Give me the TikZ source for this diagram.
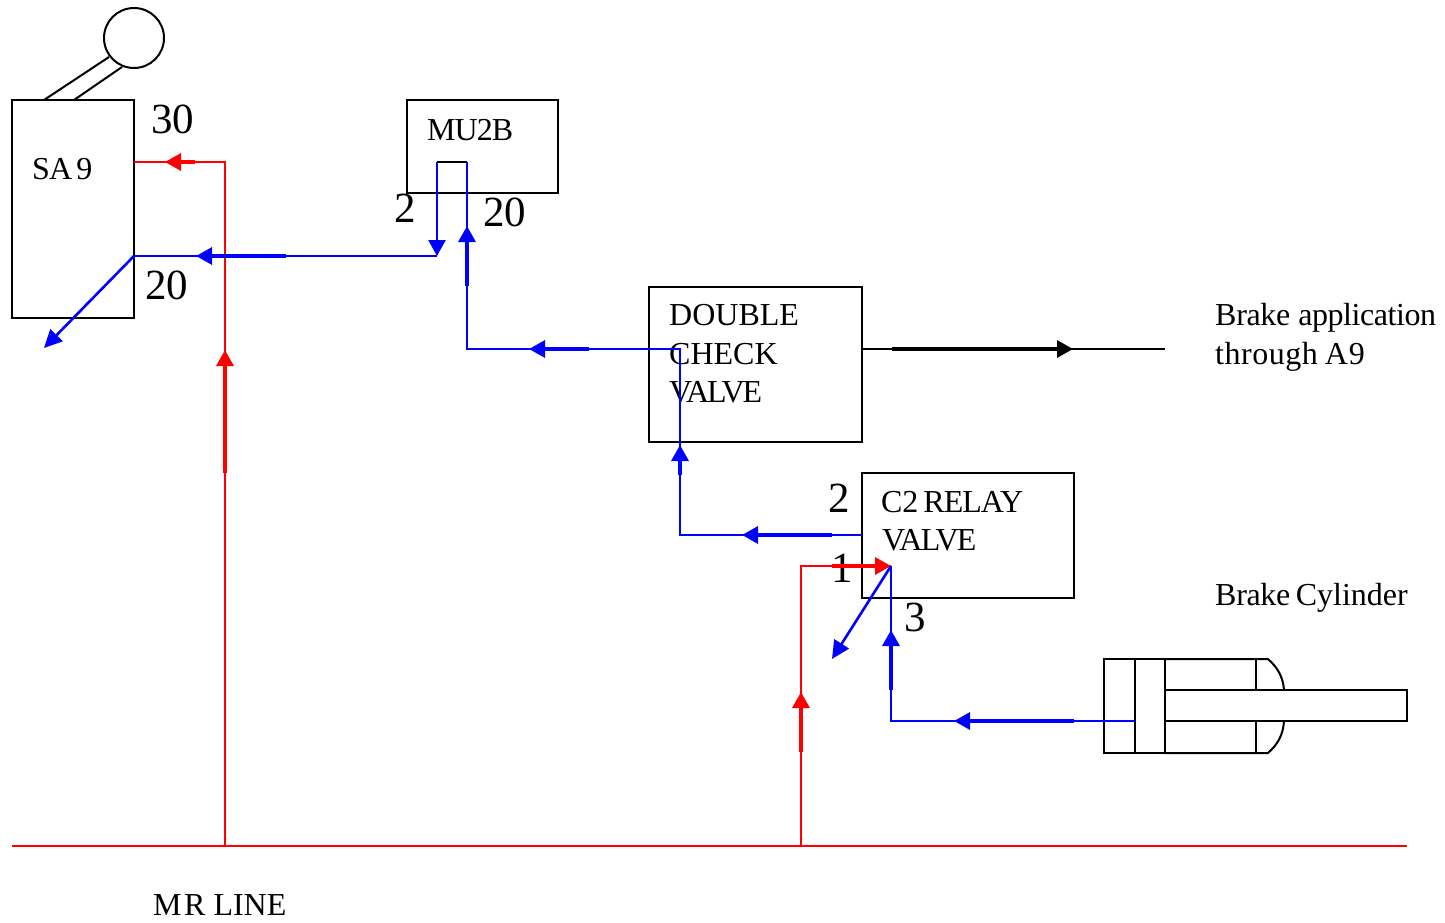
\documentclass[tikz,border=0pt]{standalone}
\usepackage{fontspec}
\setmainfont{Liberation Serif}
\usetikzlibrary{arrows.meta}
\definecolor{rd}{RGB}{255,0,0}
\definecolor{bl}{RGB}{0,0,255}
\newcommand{\lab}{\fontsize{32}{38.5}\selectfont}
\newcommand{\num}{\fontsize{43}{43}\selectfont}
\newcommand{\ls}[2]{{\addfontfeature{LetterSpace=#1}#2}}
\tikzset{
  box/.style={draw=black,line width=2pt,rectangle,inner sep=0pt,outer sep=0pt,anchor=north west},
  wire/.style={line width=2pt},
  txt/.style={inner sep=0pt,anchor=base west,font=\lab,align=left},
  numt/.style={inner sep=0pt,anchor=base west,font=\num},
  head/.style={line width=3.1pt,-{Triangle[length=16pt,width=17pt]}}
}
\begin{document}
\begin{tikzpicture}[x=1pt,y=-1pt]
\useasboundingbox (0,0) rectangle (1445,923);
% text
\node[txt] (tsa) at (32,179.5) {\ls{-3}{SA}\hspace{0.13em}9};
\node[txt] (tmu) at (427,140) {\ls{-3}{MU2B}};
\node[txt] (tdc1) at (669,325.5) {DOUBLE};
\node[txt] (tdc2) at (669,364) {CHECK};
\node[txt] (tdc3) at (669,402) {\ls{-6.5}{VALVE}};
\node[txt] (tba1) at (1215,325.5) {\ls{-1}{Brake}\hspace{0.25em}\ls{-1.4}{application}};
\node[txt] (tba2) at (1215,364.5) {\ls{1.6}{through}\hspace{0.22em}\ls{3}{A9}};
\node[txt] (tc21) at (881,512.5) {\ls{-1}{C2}\hspace{0.16em}\ls{-3}{RELAY}};
\node[txt] (tc22) at (882,550.5) {\ls{-5.5}{VALVE}};
\node[txt] (tbc) at (1215,605.5) {\ls{-1}{Brake}\hspace{0.17em}Cylinder};
\node[txt] (tmr) at (153,915.5) {\ls{8}{MR}\hspace{0.25em}LINE};
\node[numt] (n30) at (151,134) {30};
\node[numt] (n20a) at (145,299.5) {20};
\node[numt] (n2a) at (394,222) {2};
\node[numt] (n20b) at (483,226) {20};
\node[numt] (n2b) at (828,512) {2};
\node[numt] (n1) at (831,582.5) {1};
\node[numt] (n3) at (904,631.5) {3};
% boxes
\node[box,minimum width=122pt,minimum height=218pt] (sa) at (12,100) {};
\node[box,minimum width=151pt,minimum height=93pt] (mu) at (407,100) {};
\node[box,minimum width=213pt,minimum height=155pt] (dc) at (649,287) {};
\node[box,minimum width=212pt,minimum height=125pt] (c2) at (862,473) {};
\node[draw=black,line width=2pt,circle,inner sep=0pt,outer sep=0pt,minimum size=60pt] (knob) at (134,38) {};
% handle
\coordinate (h1a) at (44,100); \coordinate (h1b) at (109,57);
\coordinate (h2a) at (74,100); \coordinate (h2b) at (122,67);
\draw[wire] (h1a) -- (h1b);
\draw[wire] (h2a) -- (h2b);
% cylinder
\node[box,minimum width=31pt,minimum height=94pt] (cyl) at (1104,659) {};
\node[box,minimum width=30pt,minimum height=94pt] (pis) at (1135,659) {};
\node[box,minimum width=242pt,minimum height=31pt] (rod) at (1165,690) {};
\coordinate (ct) at (1165,659); \coordinate (cb) at (1165,753);
\coordinate (ctr) at (1284,690); \coordinate (cbr) at (1284,721);
\draw[wire] (ct) -- (1268,659) .. controls (1278,668) and (1283,677) .. (ctr);
\draw[wire] (cb) -- (1268,753) .. controls (1278,744) and (1283,735) .. (cbr);
\draw[wire] (1256,659) -- (1256,690);
\draw[wire] (1256,721) -- (1256,753);
% coordinates
\coordinate (ml) at (12,846); \coordinate (mr) at (1407,846);
\coordinate (r1b) at (225,846); \coordinate (r1t) at (225,162); \coordinate (s30) at (134,162);
\coordinate (r2b) at (801,846); \coordinate (r2t) at (801,566); \coordinate (c1) at (891,566);
\coordinate (s20) at (134,256); \coordinate (ma) at (437,256); \coordinate (mat) at (437,162);
\coordinate (mbt) at (467,162); \coordinate (mb) at (467,349); \coordinate (dj) at (680,349);
\coordinate (dk) at (680,535); \coordinate (c2p) at (862,535);
\coordinate (c3) at (891,721); \coordinate (cp) at (1135,721);
\coordinate (sax) at (44,348); \coordinate (c2x) at (832,659);
\coordinate (bo) at (862,349); \coordinate (be) at (1165,349);
% red
\draw[rd,wire] (ml) -- (mr);
\draw[rd,wire] (r1b) -- (r1t) -- (s30);
\draw[rd,head] (225,473) -- (225,350);
\draw[rd,head] (195,162) -- (165,162);
\draw[rd,wire] (r2b) -- (r2t) -- (c1);
\draw[rd,head] (801,752) -- (801,692);
\draw[rd,head] (832,566) -- (c1);
% blue
\draw[bl,wire] (ma) -- (s20);
\draw[bl,head] (286,256) -- (196,256);
\draw[bl,line width=2.6pt,-{Triangle[length=18pt,width=17pt]}] (s20) -- (sax);
\draw[bl,line width=2.6pt,-{Triangle[length=16pt,width=17pt]}] (mat) -- (ma);
\draw[wire] (mat) -- (mbt);
\draw[bl,wire] (mbt) -- (mb) -- (dj) -- (dk) -- (c2p);
\draw[bl,head] (467,286) -- (467,226);
\draw[bl,head] (589,349) -- (529,349);
\draw[bl,head] (680,475) -- (680,445);
\draw[bl,head] (832,535) -- (742,535);
\draw[bl,line width=2.6pt,-{Triangle[length=18pt,width=17pt]}] (c1) -- (c2x);
\draw[bl,wire] (c1) -- (c3) -- (cp);
\draw[bl,head] (891,690) -- (891,630);
\draw[bl,head] (1074,721) -- (954,721);
% black
\draw[wire] (bo) -- (be);
\draw[black,head] (892,349) -- (1073,349);
\end{tikzpicture}
\end{document}
